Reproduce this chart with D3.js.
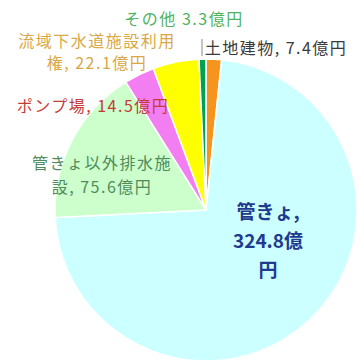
<!DOCTYPE html>
<html>
<head>
<meta charset="utf-8">
<script src="https://cdn.jsdelivr.net/npm/d3@7"></script>
<style>
  html, body { margin: 0; padding: 0; background: #fff; }
  svg { display: block; }
  text { font-family: "Noto Sans CJK JP", "Noto Sans", sans-serif; }
</style>
</head>
<body>
<svg id="chart" width="361" height="360"></svg>
<script>
// 下水道資産の内訳（億円）
const categories = ["土地建物", "管きょ", "管きょ以外排水施設", "ポンプ場", "流域下水道施設利用権", "その他"];
const values = [7.4, 324.8, 75.6, 14.5, 22.1, 3.3];
const unit = "億円";

// slice and label colours, same order as categories
const sliceColors = ["#F7941D", "#CCFFFF", "#CCFFCC", "#F27EF2", "#FFFF00", "#00A050"];
const labelColors = ["#3a3a3a", "#1F3A8F", "#4F8A5C", "#C43C36", "#D9A845", "#4DB35E"];

// label placement: centre x, first baseline y, line breaks (char index), separator
const labelLayout = [
  { x: 276, y: 54, breaks: [], sep: ", ", size: 16, weight: 400, spacing: 1.5, lh: 21 },
  { x: 268, y: 219, breaks: [4, 11], sep: ", ", size: 19, weight: 600, spacing: 0, lh: 29 },
  { x: 102, y: 169, breaks: [8], sep: ", ", size: 16, weight: 400, spacing: 1.5, lh: 24 },
  { x: 93, y: 112, breaks: [], sep: ", ", size: 16, weight: 400, spacing: 1.5, lh: 21 },
  { x: 97, y: 47, breaks: [9], sep: ", ", size: 16, weight: 400, spacing: 1.5, lh: 22 },
  { x: 184, y: 25, breaks: [], sep: " ", size: 16, weight: 400, spacing: 1.5, lh: 21 }
];

const svg = d3.select("#chart");
const cx = 206, cy = 210, radius = 151;

const pie = d3.pie().sort(null).value(d => d.value).startAngle(0).endAngle(2 * Math.PI);
const rows = categories.map((c, i) => ({ name: c, value: values[i], i }));
const arcs = pie(rows);
const arc = d3.arc().innerRadius(0).outerRadius(radius);

const g = svg.append("g").attr("transform", `translate(${cx},${cy})`);

g.selectAll("path.slice")
  .data(arcs)
  .join("path")
  .attr("class", "slice")
  .attr("d", arc)
  .attr("fill", d => sliceColors[d.data.i])
  .attr("stroke", "#ffffff")
  .attr("stroke-width", 1.5)
  .attr("stroke-linejoin", "round");

// leader line for the thin その他 slice
const other = arcs[5];
const midA = (other.startAngle + other.endAngle) / 2;
const edge = [Math.sin(midA) * radius, -Math.cos(midA) * radius];
g.append("line")
  .attr("x1", edge[0] - 0.5).attr("y1", edge[1] - 3)
  .attr("x2", edge[0] - 0.5).attr("y2", edge[1] - 20)
  .attr("stroke", "#8a8a8a")
  .attr("stroke-width", 1);

// data labels
rows.forEach((d, i) => {
  const L = labelLayout[i];
  const full = d.name + L.sep + d.value.toFixed(1) + unit;
  const cuts = [0, ...L.breaks, full.length];
  const lines = [];
  for (let k = 0; k < cuts.length - 1; k++) lines.push(full.slice(cuts[k], cuts[k + 1]).trim());
  const t = svg.append("text")
    .attr("text-anchor", "middle")
    .attr("font-size", L.size)
    .attr("font-weight", L.weight)
    .attr("letter-spacing", L.spacing)
    .attr("fill", labelColors[i]);
  lines.forEach((s, k) => {
    t.append("tspan")
      .attr("x", L.x)
      .attr("y", L.y + k * L.lh)
      .text(s);
  });
});
</script>
</body>
</html>
